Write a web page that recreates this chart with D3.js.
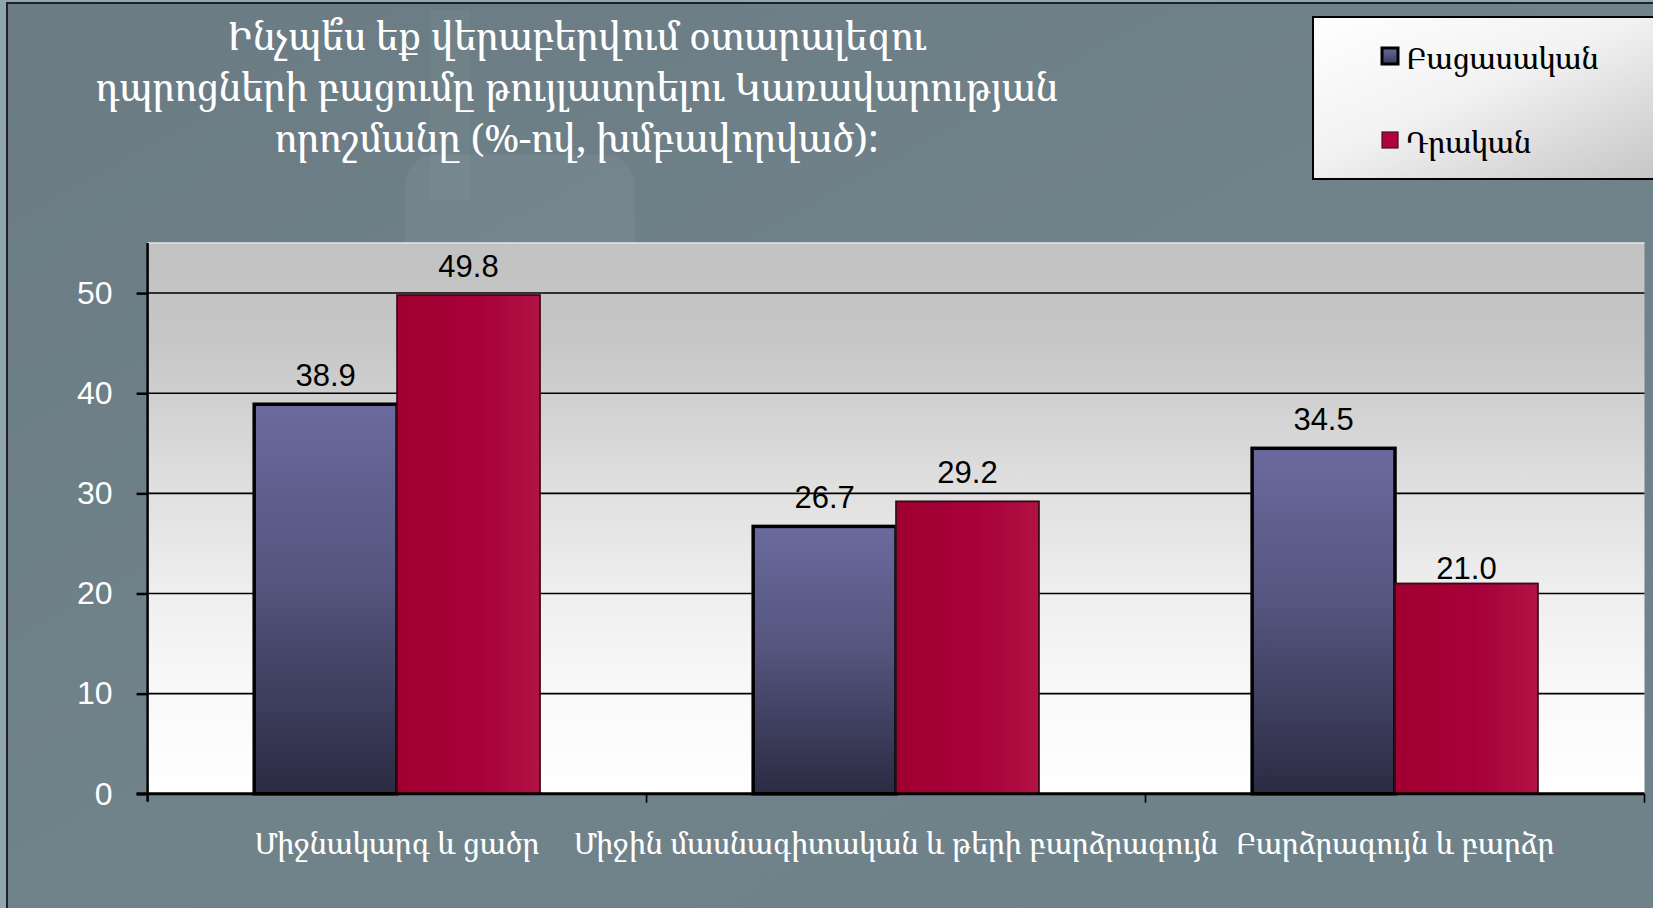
<!DOCTYPE html>
<html>
<head>
<meta charset="utf-8">
<script src="https://cdn.jsdelivr.net/npm/d3@7/dist/d3.min.js"></script>
<style>
  html, body { margin: 0; padding: 0; background: #8fa6b0; }
  svg { display: block; }
</style>
</head>
<body>
<svg id="chart" width="1653" height="908"></svg>
<script>
// Survey results: attitude towards the government decision, grouped by education level (%)
const categories = ["Միջնակարգ և ցածր", "Միջին մասնագիտական և թերի բարձրագույն", "Բարձրագույն և բարձր"];
const seriesNames = ["Բացասական", "Դրական"];
const negativeValues = [38.9, 26.7, 34.5];
const positiveValues = [49.8, 29.2, 21.0];
const yTicks = [0, 10, 20, 30, 40, 50];
const titleLines = [
  "Ինչպե՞ս եք վերաբերվում օտարալեզու",
  "դպրոցների բացումը թույլատրելու Կառավարության",
  "որոշմանը (%-ով, խմբավորված):"
];

const W = 1653, H = 908;
const armenianFont = "'Noto Serif Armenian', FreeSerif, 'DejaVu Serif Condensed', 'DejaVu Sans Condensed', serif";
const svg = d3.select("#chart");
const defs = svg.append("defs");

// ---- gradients ----
const bgGrad = defs.append("linearGradient").attr("id", "bgGrad").attr("x1", 0).attr("y1", 0).attr("x2", 1).attr("y2", 1);
bgGrad.append("stop").attr("offset", "0%").attr("stop-color", "#6a7b83");
bgGrad.append("stop").attr("offset", "50%").attr("stop-color", "#70828a");
bgGrad.append("stop").attr("offset", "100%").attr("stop-color", "#6f8189");

const plotGrad = defs.append("linearGradient").attr("id", "plotGrad").attr("x1", 0).attr("y1", 0).attr("x2", 0).attr("y2", 1);
[[0, "#c2c2c2"], [0.18, "#c6c6c6"], [0.27, "#cfcfcf"], [0.45, "#e0e0e0"], [0.64, "#efefef"], [0.82, "#f9f9f9"], [1, "#ffffff"]]
  .forEach(([o, c]) => plotGrad.append("stop").attr("offset", o).attr("stop-color", c));

const blueGrad = defs.append("linearGradient").attr("id", "blueGrad").attr("x1", 0).attr("y1", 0).attr("x2", 0).attr("y2", 1);
blueGrad.append("stop").attr("offset", "0%").attr("stop-color", "#6a6a9e");
blueGrad.append("stop").attr("offset", "45%").attr("stop-color", "#55557f");
blueGrad.append("stop").attr("offset", "100%").attr("stop-color", "#2b2b43");

const redGrad = defs.append("linearGradient").attr("id", "redGrad").attr("x1", 0).attr("y1", 0).attr("x2", 1).attr("y2", 0);
redGrad.append("stop").attr("offset", "0%").attr("stop-color", "#a10031");
redGrad.append("stop").attr("offset", "55%").attr("stop-color", "#a6003a");
redGrad.append("stop").attr("offset", "100%").attr("stop-color", "#b21244");

const legendGrad = defs.append("linearGradient").attr("id", "legendGrad").attr("x1", 0).attr("y1", 0).attr("x2", 1).attr("y2", 1);
legendGrad.append("stop").attr("offset", "0%").attr("stop-color", "#ffffff");
legendGrad.append("stop").attr("offset", "45%").attr("stop-color", "#f2f2f2");
legendGrad.append("stop").attr("offset", "100%").attr("stop-color", "#c4c4c4");

const legendBlue = defs.append("linearGradient").attr("id", "legendBlue").attr("x1", 0).attr("y1", 0).attr("x2", 0).attr("y2", 1);
legendBlue.append("stop").attr("offset", "0%").attr("stop-color", "#6a6a9e");
legendBlue.append("stop").attr("offset", "100%").attr("stop-color", "#3a3a5a");

// ---- slide background ----
svg.append("rect").attr("width", W).attr("height", H).attr("fill", "#8fa6b0");
svg.append("rect").attr("x", 7).attr("y", 3).attr("width", W).attr("height", H)
  .attr("fill", "url(#bgGrad)").attr("stroke", "#1c2226").attr("stroke-width", 2);
// faint decorative shapes behind the title
svg.append("rect").attr("x", 405).attr("y", 155).attr("width", 230).attr("height", 160)
  .attr("rx", 30).attr("fill", "#ffffff").attr("fill-opacity", 0.05);
svg.append("rect").attr("x", 430).attr("y", 10).attr("width", 40).attr("height", 190)
  .attr("fill", "#ffffff").attr("fill-opacity", 0.03);

// ---- layout ----
const plotLeft = 147.6, plotRight = 1644.5, plotTop = 243, plotBottom = 793.8;

const x0 = d3.scaleBand().domain(categories).range([plotLeft, plotRight]).padding(0);
const x1 = d3.scaleBand().domain(seriesNames).range([0, x0.bandwidth()]).paddingInner(0).paddingOuter(0.746);
const y = d3.scaleLinear().domain([0, 55]).range([plotBottom, plotTop]);

// plot area
svg.append("rect").attr("x", plotLeft).attr("y", y(55)).attr("width", plotRight - plotLeft)
  .attr("height", y(0) - y(55)).attr("fill", "url(#plotGrad)");
svg.append("line").attr("x1", plotLeft).attr("x2", plotRight).attr("y1", y(55)).attr("y2", y(55))
  .attr("stroke", "#e6e6e6").attr("stroke-width", 1.5);

// gridlines
svg.append("g").selectAll("line").data(yTicks.filter(d => d > 0)).join("line")
  .attr("x1", plotLeft).attr("x2", plotRight)
  .attr("y1", d => y(d)).attr("y2", d => y(d))
  .attr("stroke", "#000").attr("stroke-width", 1.6);

// bars
const rows = categories.map((c, i) => ({ cat: c, vals: [
  { s: seriesNames[0], v: negativeValues[i] },
  { s: seriesNames[1], v: positiveValues[i] }
]}));

const groups = svg.append("g").selectAll("g").data(rows).join("g")
  .attr("transform", d => `translate(${x0(d.cat)},0)`);

groups.selectAll("rect").data(d => d.vals).join("rect")
  .attr("x", d => x1(d.s))
  .attr("y", d => y(d.v))
  .attr("width", x1.bandwidth())
  .attr("height", d => y(0) - y(d.v))
  .attr("fill", d => d.s === seriesNames[0] ? "url(#blueGrad)" : "url(#redGrad)")
  .attr("stroke", d => d.s === seriesNames[0] ? "#000" : "#3a0a18")
  .attr("stroke-width", d => d.s === seriesNames[0] ? 3.5 : 1.8);

// value labels (short bars next to a taller neighbour sit a bit closer to their top)
groups.selectAll("text").data(d => d.vals.map((v, si) => ({ ...v, near: si === 1 && v.v < d.vals[0].v })))
  .join("text")
  .attr("x", d => x1(d.s) + x1.bandwidth() / 2)
  .attr("y", d => y(d.v) - (d.near ? 4 : 18))
  .attr("text-anchor", "middle")
  .attr("font-family", "Liberation Sans, Arial, sans-serif")
  .attr("font-size", 31)
  .attr("fill", "#000")
  .text(d => d.v.toFixed(1));

// y axis
const yAxis = svg.append("g").attr("transform", `translate(${plotLeft},0)`)
  .call(d3.axisLeft(y).tickValues(yTicks).tickSize(11).tickPadding(24).tickSizeOuter(0));
yAxis.select(".domain").attr("stroke", "#000").attr("stroke-width", 2.5)
  .attr("d", `M0,${y(55)}V${y(0) + 8}`);
yAxis.selectAll(".tick line").attr("stroke", "#000").attr("stroke-width", 2.5);
yAxis.selectAll(".tick text").attr("fill", "#fff")
  .attr("font-family", "Liberation Sans, Arial, sans-serif").attr("font-size", 32);

// x axis baseline and boundary ticks
svg.append("line").attr("x1", plotLeft - 11).attr("x2", plotRight).attr("y1", y(0)).attr("y2", y(0))
  .attr("stroke", "#000").attr("stroke-width", 3);
const edges = categories.map(c => x0(c)).concat([x0(categories[categories.length - 1]) + x0.bandwidth()]);
svg.append("g").selectAll("line").data(edges.slice(1)).join("line")
  .attr("x1", d => d).attr("x2", d => d).attr("y1", y(0)).attr("y2", y(0) + 9)
  .attr("stroke", "#000").attr("stroke-width", 1.6);

// category labels
svg.append("g").selectAll("text").data(categories).join("text")
  .attr("x", d => x0(d) + x0.bandwidth() / 2)
  .attr("y", 854)
  .attr("text-anchor", "middle")
  .attr("font-family", armenianFont)
  .attr("font-size", 29.7)
  .attr("fill", "#fff")
  .text(d => d);

// title
svg.append("g").selectAll("text").data(titleLines).join("text")
  .attr("x", 577)
  .attr("y", (d, i) => 50 + i * 51)
  .attr("text-anchor", "middle")
  .attr("font-family", armenianFont)
  .attr("font-size", 39)
  .attr("fill", "#fff")
  .text(d => d);

// legend
const lg = svg.append("g").attr("transform", "translate(1313,17)");
lg.append("rect").attr("width", 360).attr("height", 162)
  .attr("fill", "url(#legendGrad)").attr("stroke", "#000").attr("stroke-width", 2);
const items = lg.selectAll("g").data(seriesNames).join("g")
  .attr("transform", (d, i) => `translate(0,${i * 84})`);
items.append("rect").attr("x", 69).attr("y", 31).attr("width", 16).attr("height", 16)
  .attr("fill", (d, i) => i === 0 ? "url(#legendBlue)" : "#b0043c")
  .attr("stroke", (d, i) => i === 0 ? "#000" : "#4a1020")
  .attr("stroke-width", (d, i) => i === 0 ? 3 : 1.2);
items.append("text").attr("x", 93).attr("y", 52)
  .attr("font-family", armenianFont).attr("font-size", 30).attr("fill", "#000")
  .text(d => d);
</script>
</body>
</html>
